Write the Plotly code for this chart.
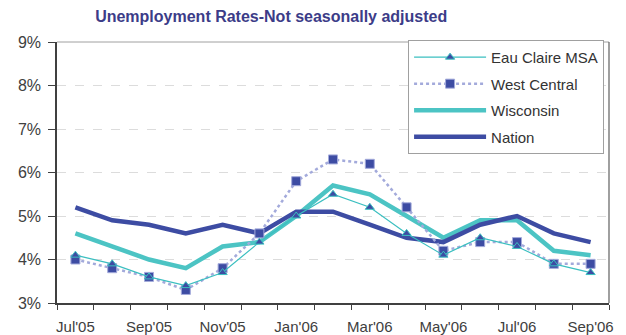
import plotly.graph_objects as go

months = ["Jul'05", "Aug'05", "Sep'05", "Oct'05", "Nov'05", "Dec'05", "Jan'06",
          "Feb'06", "Mar'06", "Apr'06", "May'06", "Jun'06", "Jul'06", "Aug'06", "Sep'06"]
eau_claire = [4.1, 3.9, 3.6, 3.4, 3.7, 4.4, 5.0, 5.5, 5.2, 4.6, 4.1, 4.5, 4.3, 3.9, 3.7]
west_central = [4.0, 3.8, 3.6, 3.3, 3.8, 4.6, 5.8, 6.3, 6.2, 5.2, 4.2, 4.4, 4.4, 3.9, 3.9]
wisconsin = [4.6, 4.3, 4.0, 3.8, 4.3, 4.4, 5.0, 5.7, 5.5, 5.0, 4.5, 4.9, 4.9, 4.2, 4.1]
nation = [5.2, 4.9, 4.8, 4.6, 4.8, 4.6, 5.1, 5.1, 4.8, 4.5, 4.4, 4.8, 5.0, 4.6, 4.4]
y_ticks = [3, 4, 5, 6, 7, 8, 9]

DARK = "#3d4ca3"
TEAL = "#4cc4c4"

fig = go.Figure()
fig.add_trace(go.Scatter(x=months, y=wisconsin, name="Wisconsin", mode="lines",
                         line=dict(color=TEAL, width=4.5), legendrank=3, legendgroup="c"))
fig.add_trace(go.Scatter(x=months, y=nation, name="Nation", mode="lines",
                         line=dict(color=DARK, width=4.5), legendrank=4, legendgroup="d"))
fig.add_trace(go.Scatter(x=months, y=west_central, name="West Central", mode="lines+markers",
                         line=dict(color="#a3aadb", width=2.5, dash="dot"),
                         marker=dict(symbol="square", size=9, color=DARK,
                                     line=dict(color="#a3aadb", width=1)),
                         legendrank=2, legendgroup="b"))
fig.add_trace(go.Scatter(x=months, y=eau_claire, name="Eau Claire MSA", mode="lines+markers",
                         line=dict(color="#3bbfc0", width=1.2),
                         marker=dict(symbol="triangle-up", size=8, color=DARK,
                                     line=dict(color="#3bbfc0", width=1)),
                         legendrank=1, legendgroup="a"))

fig.update_layout(
    width=626, height=335,
    margin=dict(l=57, r=17, t=42, b=32),
    paper_bgcolor="white", plot_bgcolor="white",
    font=dict(family="Liberation Sans, Arial, sans-serif", color="#404040"),
    title=dict(text="<b>Unemployment Rates-Not seasonally adjusted</b>",
               font=dict(size=16, color="#3c3c88"),
               xref="container", x=0.152, xanchor="left",
               yref="container", y=0.95, yanchor="middle"),
    showlegend=True,
    legend=dict(x=0.636, y=1.008, xanchor="left", yanchor="top",
                bgcolor="white", bordercolor="#a0a0a0", borderwidth=1,
                font=dict(size=15, color="#333333"), itemwidth=72,
                tracegroupgap=4, traceorder="grouped"),
)
fig.update_xaxes(
    type="category", tickvals=months,
    ticktext=[m if i % 2 == 0 else "" for i, m in enumerate(months)],
    tickson="boundaries", ticks="outside", ticklen=5, tickcolor="#404040",
    ticklabelstandoff=9,
    showline=True, linecolor="#404040", linewidth=1.5, showgrid=False,
    tickfont=dict(size=15, color="#404040"), tickangle=0, automargin=False,
    range=[-0.5, len(months) - 0.5],
)
fig.update_yaxes(
    range=[3, 9], tickvals=y_ticks, ticktext=[f"{v}%" for v in y_ticks],
    ticks="outside", ticklen=7, tickcolor="#404040", ticklabelstandoff=4,
    showline=True, linecolor="#404040", linewidth=1.5,
    showgrid=True, gridcolor="#dcdcdc", griddash="dash", gridwidth=1,
    tickfont=dict(size=16, color="#404040"), zeroline=False, automargin=False,
)
# top and right frame of the plot area
fig.add_shape(type="line", xref="paper", yref="paper", x0=0, x1=1, y0=1, y1=1,
              line=dict(color="#a0a0a0", width=1))
fig.add_shape(type="line", xref="paper", yref="paper", x0=1, x1=1, y0=0, y1=1,
              line=dict(color="#606060", width=1.2))

fig.write_html("out.html", config={"displayModeBar": False},
               post_script="document.body.style.margin='0px';document.body.style.overflow='hidden';")
